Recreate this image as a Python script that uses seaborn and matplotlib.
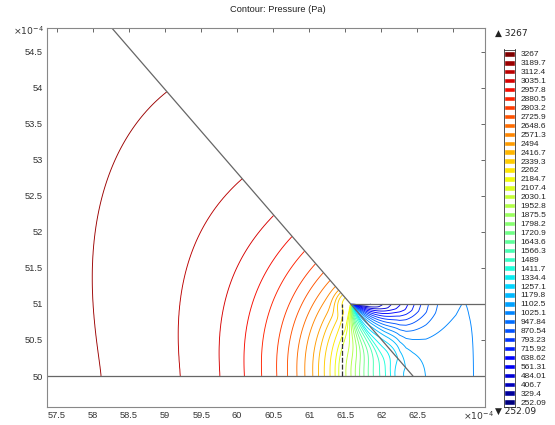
import numpy as np
import matplotlib
matplotlib.use('Agg')
import matplotlib.pyplot as plt
from matplotlib.colors import Normalize
import seaborn as sns

# legend levels (Pa), top to bottom
level_labels = ['3267', '3189.7', '3112.4', '3035.1', '2957.8', '2880.5', '2803.2',
                '2725.9', '2648.6', '2571.3', '2494', '2416.7', '2339.3', '2262',
                '2184.7', '2107.4', '2030.1', '1952.8', '1875.5', '1798.2', '1720.9',
                '1643.6', '1566.3', '1489', '1411.7', '1334.4', '1257.1', '1179.8',
                '1102.5', '1025.1', '947.84', '870.54', '793.23', '715.92', '638.62',
                '561.31', '484.01', '406.7', '329.4', '252.09']
levels = np.array([float(s) for s in level_labels])

# x (1e-4 m) where levels 3189.7 .. 1025.1 cut the bottom line y = 50
axis_cross_x = [58.11, 59.21, 59.76, 60.10, 60.34, 60.55, 60.70, 60.83, 60.94, 61.05,
                61.13, 61.21, 61.29, 61.36, 61.41, 61.51, 61.58, 61.64, 61.70, 61.76,
                61.82, 61.89, 61.98, 62.06, 62.13, 62.19, 62.31, 62.62, 63.28]
# angle below the top wall (deg) at which levels 1102.5 .. 329.4 leave the corner
fan_angle_deg = [47, 42, 38, 34, 30, 26, 22, 18, 14, 10, 6]

# geometry (1e-4 m)
X_MIN, X_MAX = 57.36, 63.44
Y_MIN, Y_MAX = 49.57, 54.83
APEX_X = 62.44          # slanted wall meets y = 50
WALL_TOP_X = 58.26      # slanted wall at top of the view
DASH_X = 61.45
DXDY = (APEX_X - WALL_TOP_X) / (Y_MAX - 50)
WALL_DEG = np.degrees(np.arctan(1 / DXDY))
SX = APEX_X - DXDY      # corner at y = 51


def pressure_field(X, Y):
    x_tab = np.concatenate([[56.5], axis_cross_x, [64.5]])
    p_tab = np.concatenate([levels[:30], [900.0]])
    # arcs round the apex, stretched towards the slanted wall
    rp = np.hypot(APEX_X - X, Y - 50)
    alpha = np.degrees(np.arctan2(Y - 50, APEX_X - X))
    frac = np.clip(alpha / WALL_DEG, 0, 1) ** 1.3
    c = 0.09 + 0.027 * np.log1p(np.exp((60.3 - X) / 0.3))
    g = X - (APEX_X - rp / (1 + c * frac))
    g_wall = rp * (1 / (1 + c) - np.cos(np.radians(WALL_DEG)))
    g_chan = g_wall * np.clip(1 - (alpha - WALL_DEG) / 40, 0, 1)
    p_base = np.interp(X - np.where(alpha <= WALL_DEG, g, g_chan), x_tab, p_tab)
    # fan of lines into the corner
    ang_cross = np.degrees(np.arctan2(1.0, np.array(axis_cross_x[13:27]) - SX))
    ang = np.concatenate([ang_cross, fan_angle_deg])[::-1]
    lev = levels[14:39][::-1]
    ang_tab = np.concatenate([[0.0], ang, [112.0, 240.0]])
    lev_tab = np.concatenate([[290.0], lev, [2230.0, 2230.0]])
    rs = np.hypot(X - SX, Y - 51)
    theta = np.mod(np.degrees(np.arctan2(51 - Y, X - SX)), 360)
    p_ray = np.interp(theta, ang_tab, lev_tab)
    scale = np.interp(theta, [0, 50, 100, 130, 240], [1.0, 0.95, 0.45, 0.2, 0.2])
    w = np.exp(-(rs / scale) ** 3)
    return w * p_ray + (1 - w) * p_base


sns.set_style('white')
plt.rcParams['font.family'] = ['Liberation Sans', 'DejaVu Sans']

fig = plt.figure(figsize=(5.55, 4.25), dpi=100)
ax = fig.add_axes([47 / 555, 18 / 425, 438 / 555, 379 / 425])

xs = np.linspace(X_MIN, X_MAX, 1000)
ys = np.linspace(50, Y_MAX, 800)
X, Y = np.meshgrid(xs, ys)
inside = (Y <= 51) | (X <= APEX_X - (Y - 50) * DXDY)
P = np.ma.masked_where(~inside, pressure_field(X, Y))

norm = Normalize(levels.min(), levels.max())
ax.contour(X, Y, P, levels=np.sort(levels), cmap='jet', norm=norm, linewidths=0.65)

# geometry lines
gray = '#666666'
ax.plot([X_MIN, X_MAX], [50, 50], color=gray, lw=0.9)
ax.plot([SX, X_MAX], [51, 51], color=gray, lw=0.9)
ax.plot([WALL_TOP_X, APEX_X], [Y_MAX, 50], color=gray, lw=0.9)
ax.plot([DASH_X, DASH_X], [50, 51], color='#333333', lw=0.9, ls=(0, (4, 1.5)))

ax.set_xlim(X_MIN, X_MAX)
ax.set_ylim(Y_MIN, Y_MAX)
xt = np.arange(57.5, 63.01, 0.5)
ax.set_xticks(xt)
ax.set_xticklabels([f'{v:g}' for v in xt[:-1]] + [''])
yt = np.arange(50, 54.51, 0.5)
ax.set_yticks(yt)
ax.set_yticklabels([f'{v:g}' for v in yt])
ax.tick_params(direction='in', length=3, width=0.7, color=gray, labelsize=6.7,
               labelcolor='#333333', top=True, right=True, pad=3)
for s in ax.spines.values():
    s.set_color('#888888')
    s.set_linewidth(0.8)

fig.text(478 / 555, 1 - 416 / 425, r'$\times10^{-4}$', fontsize=6.7, color='#333333',
         ha='center', va='center')
fig.text(28 / 555, 1 - 31 / 425, r'$\times10^{-4}$', fontsize=6.7, color='#333333',
         ha='center', va='center')
fig.text(0.5, 1 - 9 / 425, 'Contour: Pressure (Pa)', fontsize=6.7, color='#222222',
         ha='center', va='center')

# legend column
cax = fig.add_axes([504 / 555, 18.5 / 425, 11 / 555, 357 / 425])
colors = plt.get_cmap('jet')(norm(levels))
sns.barplot(x=np.ones(len(levels)), y=level_labels, hue=level_labels,
            palette=dict(zip(level_labels, colors)), legend=False, width=0.6,
            saturation=1, orient='h', ax=cax)
cax.set_xlim(0, 1)
cax.set_xticks([])
cax.set_xlabel('')
cax.set_ylabel('')
cax.yaxis.tick_right()
cax.tick_params(axis='y', length=0, labelsize=6, pad=4, labelcolor='#222222')
for s in cax.spines.values():
    s.set_color('#333333')
    s.set_linewidth(0.6)

fig.text(495 / 555, 1 - 33 / 425, '\u25b2 3267', fontsize=6.5, color='#222222',
         va='center', family=['DejaVu Sans'])
fig.text(495 / 555, 1 - 411 / 425, '\u25bc 252.09', fontsize=6.5, color='#222222',
         va='center', family=['DejaVu Sans'])

fig.savefig('out.png', dpi=100)
